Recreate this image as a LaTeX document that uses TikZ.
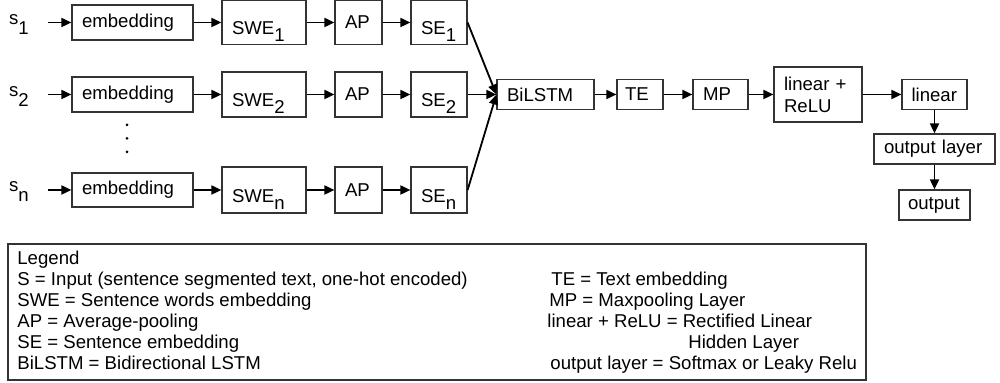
\documentclass[tikz,border=0pt]{standalone}
\usepackage{fontspec}
\setmainfont{Liberation Sans}
\usepackage{tikz}
\usetikzlibrary{arrows,arrows.meta}
\newcommand{\dn}[2][3.5pt]{\raisebox{-#1}{#2}}

\begin{document}
\begin{tikzpicture}[x=0.5pt,y=-0.5pt,font=\fontsize{9.3pt}{11pt}\selectfont,
  blk/.style={draw=black!80, line width=0.6pt, inner xsep=5pt, inner ysep=0pt, align=left, minimum height=#1},
  blk/.default=15pt,
  lowtxt/.style={text height=16pt, text depth=3.5pt},
  lbl/.style={inner sep=0pt},
  arr/.style={-{Triangle[length=5pt,width=4.5pt]}, line width=0.9pt},
  leg/.style={anchor=base west, inner sep=0pt}]
  \useasboundingbox (0,0) rectangle (1000,383);

  \node[lbl] (s1) at (19,24.5) {s\dn[5pt]{1}};
  \node[blk=17.5pt, text width=50.5pt] (emb1) at (132.5,22.5) {embedding};
  \node[blk=22pt, lowtxt, text width=32pt] (swe1) at (264,22.5) {SWE\dn{1}};
  \node[blk=22pt, text width=13.5pt] (ap1) at (358.5,22.5) {AP};
  \node[blk=22pt, lowtxt, text width=18pt] (se1) at (439,22.5) {SE\dn{1}};

  \node[lbl] (s2) at (19,96.5) {s\dn[5pt]{2}};
  \node[blk=17.5pt, text width=50.5pt] (emb2) at (132.5,94.5) {embedding};
  \node[blk=22.5pt, lowtxt, text width=32pt] (swe2) at (264,94.5) {SWE\dn{2}};
  \node[blk=22.5pt, text width=13.5pt] (ap2) at (358.5,94.5) {AP};
  \node[blk=22.5pt, lowtxt, text width=18pt] (se2) at (439,94.5) {SE\dn{2}};

  \fill (127,125) circle (0.75pt) (127,138.5) circle (0.75pt) (127,152) circle (0.75pt);

  \node[lbl] (sn) at (19,192) {s\dn[5pt]{n}};
  \node[blk=17pt, text width=50.5pt] (embn) at (132.5,190) {embedding};
  \node[blk=23pt, lowtxt, text width=32pt] (swen) at (264,190) {SWE\dn{n}};
  \node[blk=23pt, text width=13.5pt] (apn) at (358.5,190) {AP};
  \node[blk=23pt, lowtxt, text width=18pt] (sen) at (439,190) {SE\dn{n}};

  \node[blk, text width=38.5pt] (bilstm) at (545.5,94.5) {BiLSTM};
  \node[blk, inner xsep=4pt, text width=15pt] (te) at (640,94.5) {TE};
  \node[blk, text width=17.5pt] (mp) at (720.5,94.5) {MP};
  \node[blk=27.5pt, text width=34pt] (linrelu) at (818,94.5) {linear +\\ReLU};
  \node[blk, inner xsep=4.75pt, text width=23pt] (lin) at (934.5,94.5) {linear};
  \node[blk, text width=50.5pt] (outlayer) at (934.5,149) {output layer};
  \node[blk, inner xsep=4.5pt, text width=26.5pt] (out) at (934.5,205) {output};

  \draw[arr, shorten <=9.5pt] (s1.east |- emb1) -- (emb1);
  \draw[arr] (emb1) -- (swe1); \draw[arr] (swe1) -- (ap1); \draw[arr] (ap1) -- (se1);
  \draw[arr, shorten <=9.5pt] (s2.east |- emb2) -- (emb2);
  \draw[arr] (emb2) -- (swe2); \draw[arr] (swe2) -- (ap2); \draw[arr] (ap2) -- (se2);
  \draw[arr, shorten <=9.5pt] (sn.east |- embn) -- (embn);
  \draw[arr] (embn) -- (swen); \draw[arr] (swen) -- (apn); \draw[arr] (apn) -- (sen);

  \draw[arr] (se1.east) -- (bilstm.west);
  \draw[arr] (se2) -- (bilstm);
  \draw[arr] (sen.east) -- (bilstm.west);
  \draw[arr] (bilstm) -- (te); \draw[arr] (te) -- (mp); \draw[arr] (mp) -- (linrelu); \draw[arr] (linrelu) -- (lin);
  \draw[arr] (lin) -- (outlayer); \draw[arr] (outlayer) -- (out);

  \node[draw=black!80, line width=0.6pt, minimum width=429pt, minimum height=68pt, inner sep=0pt] (legend) at (437,312) {};
  \node[leg] (lg0) at (17,265) {Legend};
  \node[leg] (lg1) at (17,286) {S = Input (sentence segmented text, one-hot encoded)};
  \node[leg] (lg2) at (17,307) {SWE = Sentence words embedding};
  \node[leg] (lg3) at (17,328) {AP = Average-pooling};
  \node[leg] (lg4) at (17,349) {SE = Sentence embedding};
  \node[leg] (lg5) at (17,370) {BiLSTM = Bidirectional LSTM};
  \node[leg] (lg6) at (551,286) {TE = Text embedding};
  \node[leg] (lg7) at (549,307) {MP = Maxpooling Layer};
  \node[leg] (lg8) at (547,328) {linear + ReLU = Rectified Linear};
  \node[leg] (lg9) at (688,349) {Hidden Layer};
  \node[leg] (lg10) at (550,370) {output layer = Softmax or Leaky Relu};
\end{tikzpicture}
\end{document}
